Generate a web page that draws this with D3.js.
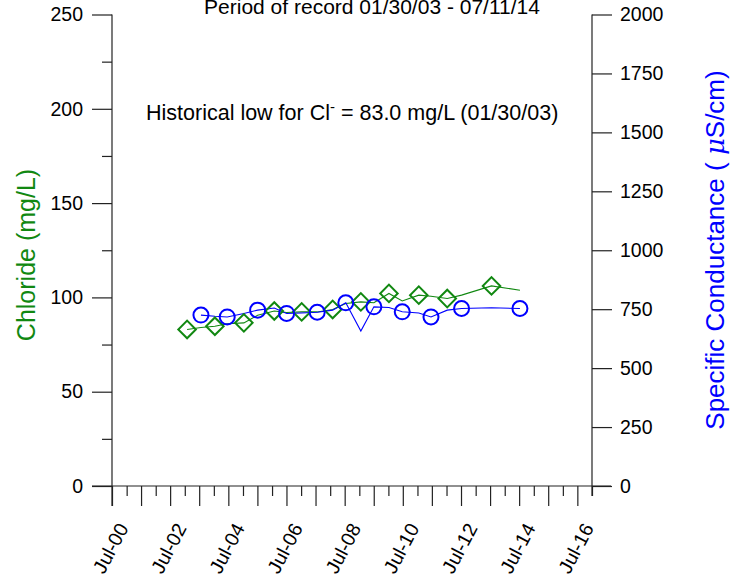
<!DOCTYPE html>
<html>
<head>
<meta charset="utf-8">
<script src="https://cdn.jsdelivr.net/npm/d3@7"></script>
<style>
  body { margin: 0; background: #fff; }
  text { font-family: Arial, "Liberation Sans", sans-serif; }
</style>
</head>
<body>
<div id="d3"></div>
<script>
// sample dates, alternating Cl sample / SC sample
const sample_dates = ["2003-01-30", "2003-07-23", "2004-01-14", "2004-06-17", "2005-01-12", "2005-07-04",
    "2006-01-29", "2006-07-03", "2007-01-08", "2007-07-22", "2008-02-01", "2008-07-15", "2009-01-20",
    "2009-07-03", "2010-01-08", "2010-06-24", "2011-01-18", "2011-06-20", "2012-01-10", "2012-07-08",
    "2013-07-19", "2014-07-11"];
const chloride = [83.0, 84.0, 84.7, 86.0, 86.5, 90.5, 92.8, 92.0, 92.3, 92.3, 93.6, 96.8, 97.6,
    97.2, 102.1, 98.1, 101.2, 100.6, 99.4, 101.2, 106.1, 103.8];
const conductance = [null, 725, 720, 717, 732, 746, 755, 732, 734, 737, 746, 777, 657,
    760, 757, 739, 734, 717, 746, 753, 756, 753];
const left_ticks = [0, 50, 100, 150, 200, 250];
const right_ticks = [0, 250, 500, 750, 1000, 1250, 1500, 1750, 2000];
const label_years = [2000, 2002, 2004, 2006, 2008, 2010, 2012, 2014, 2016];

const width = 743, height = 578;
const green = "#118811", blue = "#0000ff", axis_color = "#222";

function init() {
    const parse = d3.timeParse("%Y-%m-%d");
    const data = sample_dates.map((d, i) => {
        return { date: parse(d), cl: chloride[i], sc: conductance[i], idx: i };
    });

    const svg = d3.select("#d3").append("svg")
        .attr("width", width)
        .attr("height", height);

    const x = d3.scaleTime()
        .domain([new Date(2000, 6, 1), new Date(2017, 0, 1)])
        .range([112, 592]);
    const y_left = d3.scaleLinear().domain([0, 250]).range([486, 14.5]);
    const y_right = d3.scaleLinear().domain([0, 2000]).range([486, 14.5]);

    // left axis
    const left_axis = svg.append("g").attr("transform", "translate(112,0)")
        .call(d3.axisLeft(y_left).tickValues(left_ticks).tickSize(20).tickPadding(9).tickFormat(d3.format("d")));
    svg.append("g").attr("transform", "translate(112,0)")
        .call(d3.axisLeft(y_left).tickValues(d3.range(25, 250, 50)).tickSize(10).tickFormat(""))
        .select(".domain").remove();

    // right axis
    const right_axis = svg.append("g").attr("transform", "translate(592,0)")
        .call(d3.axisRight(y_right).tickValues(right_ticks).tickSize(20).tickPadding(8).tickFormat(d3.format("d")));

    // bottom axis: yearly long ticks (Jul), short ticks (Jan)
    const jul_ticks = d3.range(2000, 2017).map(yr => new Date(yr, 6, 1));
    const jan_ticks = d3.range(2001, 2018).map(yr => new Date(yr, 0, 1));
    const bottom_axis = svg.append("g").attr("transform", "translate(0,486)")
        .call(d3.axisBottom(x).tickValues(jul_ticks).tickSize(20).tickFormat(""));
    svg.append("g").attr("transform", "translate(0,486)")
        .call(d3.axisBottom(x).tickValues(jan_ticks).tickSize(10).tickFormat(""))
        .select(".domain").remove();

    svg.selectAll(".domain").attr("stroke", axis_color).attr("stroke-width", 1.2);
    svg.selectAll(".tick line").attr("stroke", axis_color).attr("stroke-width", 1.2);
    svg.selectAll(".tick text").attr("font-size", 19.5).attr("fill", "#000")
        .style("font-family", "Arial, 'Liberation Sans', sans-serif");
    // left / right axis domain lines extend below to the tick
    left_axis.select(".domain").attr("d", "M0,14.5V506");
    right_axis.select(".domain").attr("d", "M0,14.5V496");
    bottom_axis.select(".domain").attr("d", "M92,0H611");

    // x tick labels (rotated)
    svg.append("g").selectAll("text")
        .data(label_years)
        .enter()
        .append("text")
        .attr("transform", d => "translate(" + (x(new Date(d, 6, 1)) + 17) + ",528) rotate(-62)")
        .attr("text-anchor", "end")
        .attr("font-size", 19.5)
        .text(d => "Jul-" + String(d).slice(2));

    // lines
    const cl_line = d3.line().x(d => x(d.date)).y(d => y_left(d.cl));
    svg.append("path")
        .datum(data)
        .attr("d", cl_line)
        .attr("fill", "none")
        .attr("stroke", green)
        .attr("stroke-width", 1.1);

    const sc_line = d3.line()
        .defined(d => d.sc != null)
        .x(d => x(d.date)).y(d => y_right(d.sc));
    svg.append("path")
        .datum(data)
        .attr("d", sc_line)
        .attr("fill", "none")
        .attr("stroke", blue)
        .attr("stroke-width", 1.1);

    // markers
    svg.selectAll(".cl")
        .data(data.filter(d => d.idx % 2 == 0))
        .enter()
        .append("path")
        .attr("class", "cl")
        .attr("transform", d => "translate(" + x(d.date) + "," + y_left(d.cl) + ") rotate(45)")
        .attr("d", "M-6.2,-6.2H6.2V6.2H-6.2Z")
        .attr("fill", "none")
        .attr("stroke", green)
        .attr("stroke-width", 2);

    svg.selectAll(".sc")
        .data(data.filter(d => d.idx % 2 == 1))
        .enter()
        .append("circle")
        .attr("class", "sc")
        .attr("cx", d => x(d.date))
        .attr("cy", d => y_right(d.sc))
        .attr("r", 7.5)
        .attr("fill", "none")
        .attr("stroke", blue)
        .attr("stroke-width", 2);

    // titles
    svg.append("text")
        .attr("x", 372).attr("y", 14)
        .attr("text-anchor", "middle")
        .attr("font-size", 21)
        .text("Period of record 01/30/03 - 07/11/14");

    const note = svg.append("text")
        .attr("x", 146).attr("y", 120)
        .attr("font-size", 21.5);
    note.append("tspan").text("Historical low for Cl");
    note.append("tspan").attr("dy", -8).attr("font-size", 15).text("-");
    note.append("tspan").attr("dy", 8).text(" = 83.0 mg/L (01/30/03)");

    svg.append("text")
        .attr("transform", "translate(35,255) rotate(-90)")
        .attr("text-anchor", "middle")
        .attr("font-size", 25)
        .attr("fill", green)
        .text("Chloride (mg/L)");

    const sc_label = svg.append("text")
        .attr("transform", "translate(724,250) rotate(-90)")
        .attr("text-anchor", "middle")
        .attr("font-size", 26)
        .attr("fill", blue);
    sc_label.append("tspan").text("Specific Conductance ( ");
    sc_label.append("tspan").attr("font-style", "italic").attr("font-family", "DejaVu Serif")
        .attr("font-weight", 300).text("\u03bc");
    sc_label.append("tspan").text("S/cm)");
}

init();
</script>
</body>
</html>
